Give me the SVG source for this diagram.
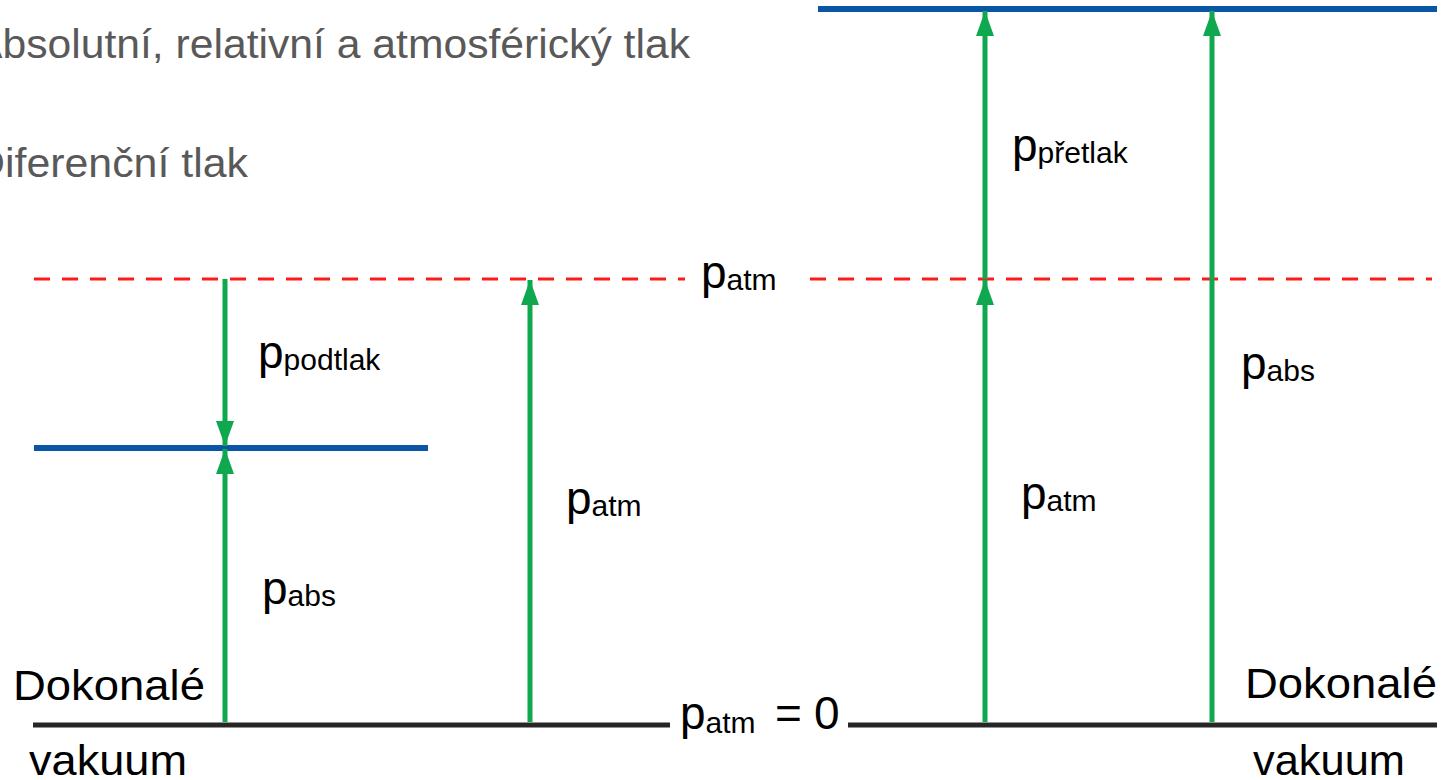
<svg xmlns="http://www.w3.org/2000/svg" width="1441" height="780" viewBox="0 0 1441 780">
<defs>
<style>
.title{font-family:"Liberation Sans",Arial,sans-serif;font-size:40px;fill:#595959}
.lbl{font-family:"Liberation Sans",Arial,sans-serif;font-size:42px;fill:#000}
.p{font-family:"Liberation Sans",Arial,sans-serif;font-size:46px;fill:#000}
.sub{font-size:30px}
.base{stroke:#262626;stroke-width:5;fill:none}
.atm{stroke:#ff1a1a;stroke-width:3;stroke-dasharray:16 12;fill:none}
.lvl{stroke:#0a56a6;stroke-width:6;fill:none}
.arr{stroke:#0fa84f;stroke-width:5;fill:none}
</style>
<marker id="ah" viewBox="0 0 25 18" refX="25" refY="9" markerWidth="25" markerHeight="18" markerUnits="userSpaceOnUse" orient="auto">
<path d="M0,0 L25,9 L0,18 Z" fill="#0fa84f"/>
</marker>
</defs>
<g id="titles">
<text class="title" x="-26" y="58" textLength="716" lengthAdjust="spacingAndGlyphs">Absolutní, relativní a atmosférický tlak</text>
<text class="title" x="-26" y="177" textLength="274" lengthAdjust="spacingAndGlyphs">Diferenční tlak</text>
</g>
<g id="lines">
<line class="base" x1="33" y1="725" x2="670" y2="725"/>
<line class="base" x1="848" y1="725" x2="1437" y2="725"/>
<line class="atm" x1="34" y1="279" x2="685" y2="279"/>
<line class="atm" x1="810" y1="279" x2="1432" y2="279"/>
<line class="lvl" x1="34" y1="448" x2="428" y2="448"/>
<line class="lvl" x1="818" y1="9" x2="1437" y2="9"/>
</g>
<g id="connectors">
<path class="arr" d="M225,279 L225,446" marker-end="url(#ah)"/>
<path class="arr" d="M225,722 L225,449" marker-end="url(#ah)"/>
<path class="arr" d="M530,722 L530,280" marker-end="url(#ah)"/>
<path class="arr" d="M985,722 L985,280" marker-end="url(#ah)"/>
<path class="arr" d="M985,279 L985,11" marker-end="url(#ah)"/>
<path class="arr" d="M1212,722 L1212,11" marker-end="url(#ah)"/>
</g>
<g id="label-podtlak"><text class="p" x="258" y="368">p<tspan class="sub" dy="2">podtlak</tspan></text></g>
<g id="label-abs-left"><text class="p" x="262" y="604">p<tspan class="sub" dy="2">abs</tspan></text></g>
<g id="label-atm-midleft"><text class="p" x="566" y="514">p<tspan class="sub" dy="2">atm</tspan></text></g>
<g id="label-atm-top"><text class="p" x="701" y="288">p<tspan class="sub" dy="2">atm</tspan></text></g>
<g id="label-pretlak"><text class="p" x="1012" y="161">p<tspan class="sub" dy="2">přetlak</tspan></text></g>
<g id="label-atm-right"><text class="p" x="1021" y="509">p<tspan class="sub" dy="2">atm</tspan></text></g>
<g id="label-abs-right"><text class="p" x="1241" y="379">p<tspan class="sub" dy="2">abs</tspan></text></g>
<g id="label-zero"><text class="p" x="680" y="729">p<tspan class="sub" dy="4">atm</tspan><tspan x="775" dy="-4">=</tspan><tspan x="814">0</tspan></text></g>
<g id="vacuum-left">
<text class="lbl" x="13" y="700" textLength="192" lengthAdjust="spacingAndGlyphs">Dokonalé</text>
<text class="lbl" x="29" y="775" textLength="158" lengthAdjust="spacingAndGlyphs">vakuum</text>
</g>
<g id="vacuum-right">
<text class="lbl" x="1245" y="698" textLength="192" lengthAdjust="spacingAndGlyphs">Dokonalé</text>
<text class="lbl" x="1253" y="775" textLength="152" lengthAdjust="spacingAndGlyphs">vakuum</text>
</g>
</svg>
